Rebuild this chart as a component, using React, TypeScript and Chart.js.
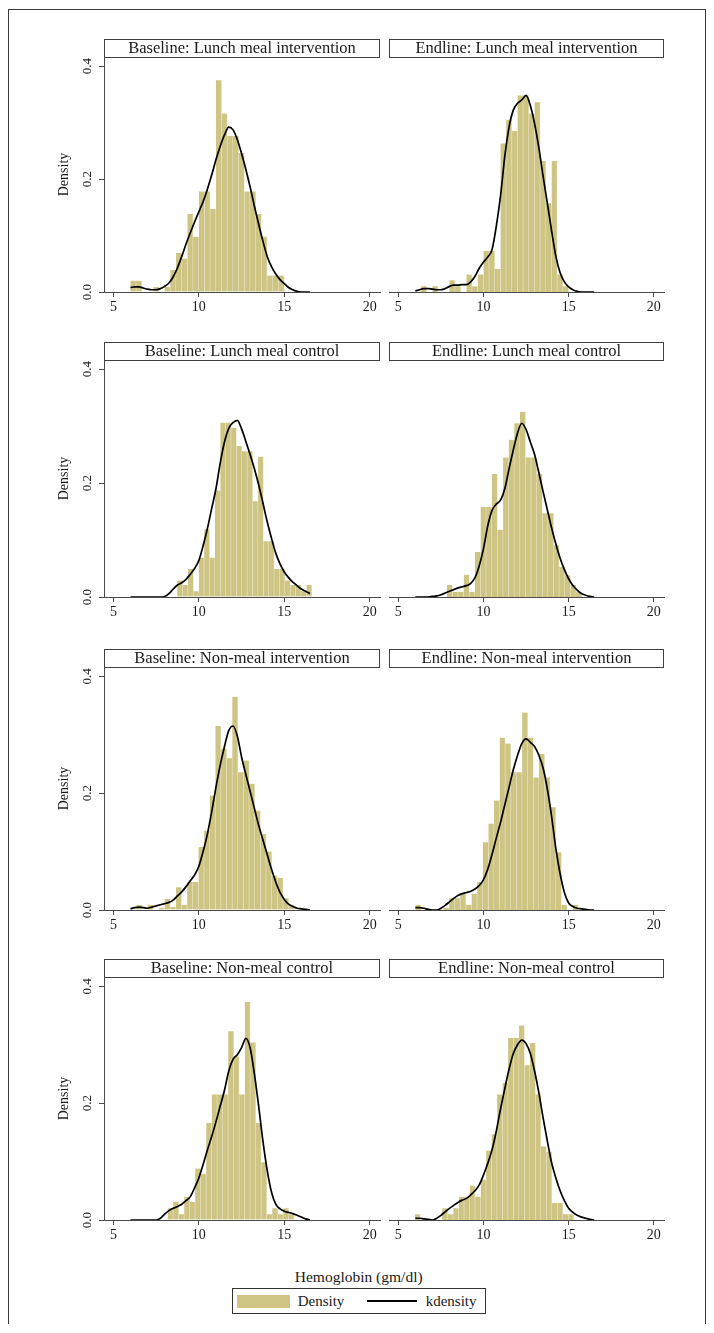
import React, { useEffect, useRef } from 'react';
import { Chart, registerables } from 'chart.js';

Chart.register(...registerables);

// ---------------- DATA ----------------
const panelTitles = [
  'Baseline: Lunch meal intervention',
  'Endline: Lunch meal intervention',
  'Baseline: Lunch meal control',
  'Endline: Lunch meal control',
  'Baseline: Non-meal intervention',
  'Endline: Non-meal intervention',
  'Baseline: Non-meal control',
  'Endline: Non-meal control',
];
const xTickValues = [5, 10, 15, 20];
const xTickLabels = ['5', '10', '15', '20'];
const yTickValues = [0, 0.2, 0.4];
const yTickLabels = ['0.0', '0.2', '0.4'];
const yAxisTitle = 'Density';
const xAxisTitle = 'Hemoglobin (gm/dl)';
const legendLabels = ['Density', 'kdensity'];

// histogram bins: first edge and width per panel
const binStart = [6.0, 6.0, 8.74, 7.85, 6.02, 6.0, 8.18, 5.97];
const binWidth = [0.3333, 0.3333, 0.315, 0.33, 0.33, 0.33, 0.322, 0.322];

const histBaseLunchInt = [0.02, 0.02, 0, 0, 0.009, 0, 0.009, 0.039, 0.069, 0.059, 0.138, 0.098, 0.178, 0.178, 0.147, 0.375, 0.316, 0.276, 0.276, 0.246, 0.178, 0.178, 0.138, 0.098, 0.029, 0.029, 0.029];
const histEndLunchInt = [0, 0.01, 0, 0.01, 0, 0, 0.021, 0.01, 0, 0.031, 0.01, 0.031, 0.073, 0.073, 0.041, 0.263, 0.305, 0.285, 0.348, 0.348, 0.316, 0.336, 0.232, 0.157, 0.232, 0.031, 0.01];
const histBaseLunchCtl = [0.029, 0.021, 0.049, 0.01, 0.069, 0.119, 0.069, 0.187, 0.306, 0.306, 0.297, 0.265, 0.256, 0.256, 0.168, 0.246, 0.098, 0.098, 0.049, 0.049, 0.029, 0.021, 0.021, 0.01, 0.021];
const histEndLunchCtl = [0.021, 0.009, 0.009, 0.039, 0.009, 0.079, 0.158, 0.158, 0.216, 0.118, 0.245, 0.276, 0.305, 0.325, 0.245, 0.245, 0.216, 0.147, 0.147, 0.091, 0.053, 0.038, 0.021, 0.009];
const histBaseNonInt = [0, 0.009, 0, 0.009, 0, 0.004, 0.019, 0.005, 0.039, 0.009, 0.048, 0.048, 0.108, 0.136, 0.196, 0.315, 0.276, 0.26, 0.365, 0.236, 0.256, 0.216, 0.17, 0.13, 0.1, 0.059, 0.055, 0.02, 0.009];
const histEndNonInt = [0.009, 0, 0, 0, 0, 0.004, 0.02, 0.02, 0.028, 0.009, 0.028, 0.048, 0.116, 0.148, 0.1875, 0.295, 0.285, 0.236, 0.236, 0.338, 0.295, 0.227, 0.267, 0.227, 0.176, 0.099, 0.009, 0, 0.009];
const histBaseNonCtl = [0.02, 0.031, 0.01, 0.04, 0.031, 0.088, 0.079, 0.166, 0.215, 0.215, 0.215, 0.323, 0.28, 0.215, 0.373, 0.304, 0.166, 0.099, 0.01, 0.02, 0.01, 0.02, 0.01];
const histEndNonCtl = [0.01, 0, 0, 0, 0, 0.02, 0.01, 0.02, 0.04, 0.04, 0.059, 0.04, 0.069, 0.119, 0.147, 0.215, 0.235, 0.312, 0.312, 0.333, 0.265, 0.303, 0.215, 0.126, 0.117, 0.029, 0.029, 0.01, 0.01];

// kernel density evaluation points and values
const kdGrid = [6, 6.25, 6.5, 6.75, 7, 7.25, 7.5, 7.75, 8, 8.25, 8.5, 8.75, 9, 9.25, 9.5, 9.75, 10, 10.25, 10.5, 10.75, 11, 11.25, 11.5, 11.75, 12, 12.25, 12.5, 12.75, 13, 13.25, 13.5, 13.75, 14, 14.25, 14.5, 14.75, 15, 15.25, 15.5, 15.75, 16, 16.25, 16.5];

const kdBaseLunchInt = [0.008, 0.009, 0.009, 0.007, 0.005, 0.004, 0.004, 0.006, 0.01, 0.016, 0.027, 0.043, 0.063, 0.085, 0.105, 0.124, 0.142, 0.16, 0.182, 0.207, 0.234, 0.258, 0.278, 0.292, 0.287, 0.27, 0.245, 0.217, 0.186, 0.152, 0.12, 0.09, 0.063, 0.045, 0.032, 0.022, 0.015, 0.008, 0.004, 0.001, 0, 0, 0];
const kdEndLunchInt = [0.002, 0.004, 0.006, 0.006, 0.005, 0.004, 0.004, 0.006, 0.01, 0.012, 0.012, 0.013, 0.013, 0.018, 0.028, 0.042, 0.053, 0.062, 0.075, 0.116, 0.17, 0.24, 0.292, 0.322, 0.334, 0.34, 0.348, 0.33, 0.298, 0.255, 0.205, 0.157, 0.108, 0.063, 0.034, 0.018, 0.009, 0.004, 0.001, 0, 0, 0, 0];
const kdBaseLunchCtl = [0, 0, 0, 0, 0, 0, 0, 0, 0.001, 0.006, 0.014, 0.021, 0.025, 0.031, 0.04, 0.05, 0.064, 0.09, 0.12, 0.155, 0.19, 0.235, 0.272, 0.296, 0.306, 0.31, 0.295, 0.273, 0.25, 0.225, 0.197, 0.165, 0.132, 0.103, 0.077, 0.058, 0.044, 0.034, 0.026, 0.02, 0.014, 0.01, 0.006];
const kdEndLunchCtl = [0, 0, 0, 0, 0.001, 0.002, 0.004, 0.007, 0.01, 0.013, 0.016, 0.018, 0.02, 0.024, 0.034, 0.055, 0.085, 0.125, 0.152, 0.163, 0.17, 0.19, 0.225, 0.258, 0.288, 0.305, 0.294, 0.272, 0.25, 0.218, 0.185, 0.153, 0.121, 0.093, 0.068, 0.048, 0.032, 0.02, 0.012, 0.006, 0.003, 0.001, 0];
const kdBaseNonInt = [0.002, 0.004, 0.005, 0.004, 0.003, 0.005, 0.007, 0.009, 0.011, 0.013, 0.017, 0.024, 0.031, 0.04, 0.05, 0.06, 0.075, 0.1, 0.13, 0.168, 0.21, 0.248, 0.28, 0.307, 0.315, 0.298, 0.262, 0.232, 0.203, 0.174, 0.145, 0.12, 0.095, 0.07, 0.048, 0.03, 0.018, 0.01, 0.006, 0.003, 0.002, 0.001, 0];
const kdEndNonInt = [0.004, 0.004, 0.003, 0.001, 0, 0, 0.003, 0.008, 0.014, 0.02, 0.025, 0.028, 0.03, 0.032, 0.036, 0.042, 0.052, 0.07, 0.095, 0.123, 0.15, 0.18, 0.21, 0.24, 0.265, 0.285, 0.293, 0.287, 0.28, 0.265, 0.243, 0.207, 0.16, 0.105, 0.062, 0.03, 0.012, 0.006, 0.003, 0.002, 0.001, 0, 0];
const kdBaseNonCtl = [0, 0, 0, 0, 0, 0, 0, 0.003, 0.01, 0.016, 0.02, 0.023, 0.027, 0.033, 0.04, 0.055, 0.072, 0.095, 0.12, 0.143, 0.168, 0.195, 0.222, 0.255, 0.275, 0.283, 0.295, 0.311, 0.295, 0.25, 0.195, 0.135, 0.085, 0.048, 0.027, 0.019, 0.015, 0.013, 0.011, 0.008, 0.005, 0.002, 0];
const kdEndNonCtl = [0.003, 0.003, 0.002, 0.001, 0, 0.003, 0.008, 0.014, 0.02, 0.025, 0.03, 0.034, 0.037, 0.043, 0.05, 0.06, 0.077, 0.097, 0.12, 0.152, 0.19, 0.225, 0.258, 0.285, 0.3, 0.308, 0.302, 0.285, 0.255, 0.218, 0.175, 0.135, 0.098, 0.072, 0.05, 0.033, 0.02, 0.013, 0.008, 0.005, 0.003, 0.001, 0];

const histograms = [histBaseLunchInt, histEndLunchInt, histBaseLunchCtl, histEndLunchCtl, histBaseNonInt, histEndNonInt, histBaseNonCtl, histEndNonCtl];
const kdensities = [kdBaseLunchInt, kdEndLunchInt, kdBaseLunchCtl, kdEndLunchCtl, kdBaseNonInt, kdEndNonInt, kdBaseNonCtl, kdEndNonCtl];

// ---------------- STYLE / LAYOUT ----------------
const FONT = '"Liberation Serif", "Times New Roman", serif';
const TEXT = '#1a1a1a';
const AXIS = '#4a4a4a';
const BAR = 'rgb(206,197,132)';
const BAR_EDGE = 'rgb(236,232,206)';
const OFF = 8; // body margin

const rowChartTop = [57, 360, 667, 977];
const rowBaseline = [292, 597, 910, 1220];

const panelBoxPlugin = {
  id: 'panelBox',
  afterDraw(chart: any, _args: any, opts: any) {
    const { ctx, chartArea } = chart;
    const h = 18;
    const left = Math.round(chartArea.left);
    const right = Math.round(chartArea.right);
    const top = Math.round(chartArea.top);
    ctx.save();
    ctx.fillStyle = '#ffffff';
    ctx.fillRect(left, top - h, right - left, h);
    ctx.strokeStyle = '#404040';
    ctx.lineWidth = 1;
    ctx.strokeRect(left + 0.5, top - h + 0.5, right - left - 1, h);
    ctx.fillStyle = TEXT;
    ctx.font = `16.5px ${FONT}`;
    ctx.textAlign = 'center';
    ctx.textBaseline = 'middle';
    ctx.fillText(opts.text, (left + right) / 2, top - h / 2 + 1);
    ctx.restore();
  },
};

function Panel({ idx }: { idx: number }) {
  const ref = useRef<HTMLCanvasElement>(null);
  const row = Math.floor(idx / 2);
  const isLeft = idx % 2 === 0;
  const canvasLeft = isLeft ? 36 : 385;
  const canvasWidth = isLeft ? 349 : 285;
  const chartTop = rowChartTop[row];
  const base = rowBaseline[row];
  const canvasTop = chartTop - 22;
  const canvasHeight = base + 30 - canvasTop;

  useEffect(() => {
    if (!ref.current) return;
    const hist = histograms[idx];
    const barData = hist.map((h, k) => ({ x: binStart[idx] + (k + 0.5) * binWidth[idx], y: h }));
    const lineData = kdGrid.map((x, i) => ({ x, y: kdensities[idx][i] }));
    const chart = new Chart(ref.current, {
      type: 'bar',
      data: {
        datasets: [
          {
            type: 'line',
            label: legendLabels[1],
            data: lineData,
            borderColor: '#000000',
            borderWidth: 1.7,
            pointRadius: 0,
            cubicInterpolationMode: 'monotone',
            fill: false,
            order: 0,
          } as any,
          {
            type: 'bar',
            label: legendLabels[0],
            data: barData,
            backgroundColor: BAR,
            borderColor: BAR_EDGE,
            borderWidth: { top: 0, right: 0.8, bottom: 0, left: 0 },
            borderSkipped: false,
            barPercentage: 1,
            categoryPercentage: 1,
            order: 1,
          } as any,
        ],
      },
      options: {
        animation: false,
        responsive: false,
        devicePixelRatio: 1,
        layout: { padding: { top: 22, left: isLeft ? 0 : 4, right: isLeft ? 5 : 6, bottom: 0 } },
        plugins: {
          legend: { display: false },
          tooltip: { enabled: false },
          title: { display: false },
          panelBox: { text: panelTitles[idx] },
        } as any,
        scales: {
          x: {
            type: 'linear',
            min: 4.45,
            max: 20.6,
            offset: false,
            afterBuildTicks: (s: any) => {
              s.ticks = xTickValues.map((v) => ({ value: v }));
            },
            afterFit: (s: any) => {
              s.height = 30;
            },
            grid: { display: true, drawOnChartArea: false, drawTicks: true, tickLength: 5, color: AXIS, offset: false },
            border: { display: true, color: AXIS, width: 1 },
            ticks: {
              font: { family: FONT, size: 14 },
              color: TEXT,
              padding: 2,
              maxRotation: 0,
              autoSkip: false,
              callback: (_v: any, i: number) => xTickLabels[i],
            },
          },
          y: {
            type: 'linear',
            display: isLeft,
            min: 0,
            max: 0.416,
            afterBuildTicks: (s: any) => {
              s.ticks = yTickValues.map((v) => ({ value: v }));
            },
            afterFit: (s: any) => {
              s.width = isLeft ? 68 : 0;
            },
            grid: { display: true, drawOnChartArea: false, drawTicks: true, tickLength: 5, color: AXIS },
            border: { display: true, color: AXIS, width: 1 },
            ticks: {
              font: { family: FONT, size: 13 },
              color: TEXT,
              padding: 3,
              minRotation: 90,
              maxRotation: 90,
              crossAlign: 'center',
              autoSkip: false,
              callback: (_v: any, i: number) => yTickLabels[i],
            },
            title: {
              display: true,
              text: yAxisTitle,
              font: { family: FONT, size: 14 },
              color: TEXT,
              padding: { top: 20, bottom: 0 },
            },
          },
        },
      } as any,
      plugins: [panelBoxPlugin],
    });
    return () => chart.destroy();
  }, [idx, isLeft]);

  return (
    <canvas
      ref={ref}
      width={canvasWidth}
      height={canvasHeight}
      style={{
        position: 'absolute',
        left: canvasLeft - OFF,
        top: canvasTop - OFF,
        width: canvasWidth,
        height: canvasHeight,
      }}
    />
  );
}

export default function App() {
  return (
    <div style={{ position: 'relative', width: 698, height: 1316, fontFamily: FONT, color: TEXT }}>
      <div
        style={{
          position: 'absolute',
          left: 0,
          top: 1,
          width: 698,
          height: 1316,
          border: '1px solid #3a3a3a',
          boxSizing: 'border-box',
        }}
      />
      {panelTitles.map((_, i) => (
        <Panel key={i} idx={i} />
      ))}
      <div
        style={{
          position: 'absolute',
          left: 358.7 - OFF - 120,
          width: 240,
          top: 1276.7 - OFF - 10,
          height: 20,
          lineHeight: '20px',
          textAlign: 'center',
          fontSize: 15.5,
          whiteSpace: 'nowrap',
        }}
      >
        {xAxisTitle}
      </div>
      <div
        style={{
          position: 'absolute',
          left: 231.7 - OFF,
          top: 1288.3 - OFF,
          width: 254,
          height: 26,
          border: '1px solid #333',
          boxSizing: 'border-box',
          background: '#fff',
        }}
      >
        <div style={{ position: 'absolute', left: 4, top: 5.5, width: 53, height: 13, background: BAR }} />
        <div
          style={{ position: 'absolute', left: 65, top: 0, height: 24, lineHeight: '24px', fontSize: 15, whiteSpace: 'nowrap' }}
        >
          {legendLabels[0]}
        </div>
        <div style={{ position: 'absolute', left: 134, top: 11, width: 50, height: 2, background: '#000' }} />
        <div
          style={{ position: 'absolute', left: 193, top: 0, height: 24, lineHeight: '24px', fontSize: 15, whiteSpace: 'nowrap' }}
        >
          {legendLabels[1]}
        </div>
      </div>
    </div>
  );
}
